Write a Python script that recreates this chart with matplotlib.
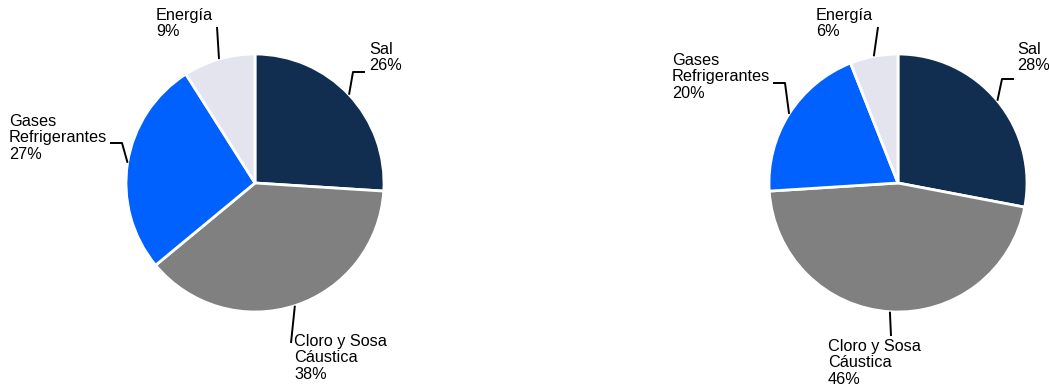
import matplotlib
matplotlib.use("Agg")
import matplotlib.pyplot as plt
import numpy as np

plt.rcParams['font.family'] = ['Liberation Sans', 'DejaVu Sans']

categories = ["Sal", "Cloro y Sosa\nCáustica", "Gases\nRefrigerantes", "Energía"]
values_left = [26, 38, 27, 9]
values_right = [28, 46, 20, 6]
colors = ["#112e51", "#808080", "#0061fe", "#e4e4ef"]

W, H = 1049, 389
fig = plt.figure(figsize=(W / 100, H / 100), dpi=100)
ax = fig.add_axes([0, 0, 1, 1])
ax.set_xlim(0, W)
ax.set_ylim(0, H)
ax.set_aspect('equal')
ax.axis('off')

R = 129

def draw(cx, cy, values, layout):
    cyd = H - cy
    ax.pie(values, colors=colors, startangle=90, counterclock=False,
           center=(cx, cyd), radius=R, frame=True,
           wedgeprops=dict(edgecolor='white', linewidth=2))
    total = sum(values)
    cum = 0
    for i, v in enumerate(values):
        mid = 90 - (cum + v / 2) / total * 360
        cum += v
        a = np.deg2rad(mid)
        sx, sy = cx + R * np.cos(a), cyd + R * np.sin(a)
        pts, (tx, ty) = layout[i]
        xs = [sx] + [p[0] for p in pts]
        ys = [sy] + [H - p[1] for p in pts]
        ax.plot(xs, ys, color='black', linewidth=1.4, solid_capstyle='butt')
        ax.text(tx, H - ty, f"{categories[i]}\n{v}%", ha='left', va='top',
                fontsize=11.7, linespacing=1.12, color='black')

# layout: elbow points (pixel coords) and text top-left
layout_left = [
    ([(353, 72), (365, 72)], (369, 42)),
    ([(291, 343)], (294, 334)),
    ([(122, 143), (110, 143)], (9, 114)),
    ([(217, 27)], (156, 8)),
]
layout_right = [
    ([(1002, 79), (1014, 79)], (1017, 42)),
    ([(891, 336)], (828, 339)),
    ([(785, 83), (773, 83)], (672, 53)),
    ([(878, 27)], (816, 8)),
]

draw(255, 183, values_left, layout_left)
draw(898, 183, values_right, layout_right)

ax.set_xlim(0, W)
ax.set_ylim(0, H)
ax.axis('off')

fig.savefig("out.png", dpi=100)
